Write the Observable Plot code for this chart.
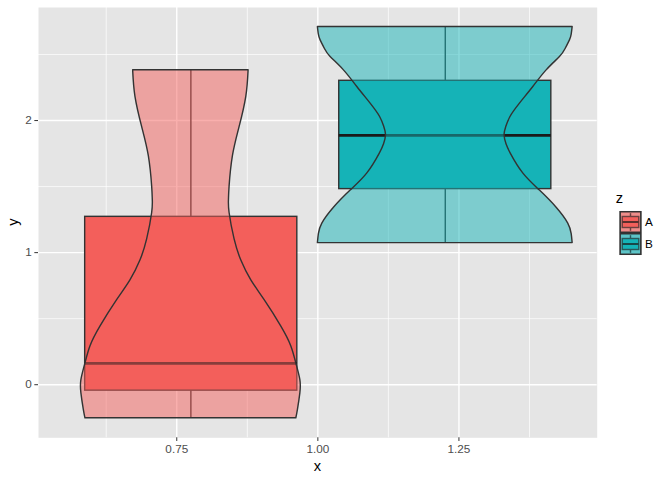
<!DOCTYPE html>
<html>
<head>
<meta charset="utf-8">
<script src="https://cdn.jsdelivr.net/npm/d3@7"></script>
<script src="https://cdn.jsdelivr.net/npm/@observablehq/plot@0.6"></script>
<style>
  html, body { margin: 0; padding: 0; background: white; }
</style>
</head>
<body>
<div id="chart"></div>
<script>
// ---- data ----
const groups = ["A", "B"];
const groupColors = ["#F35F5B", "#15B3B7"];

// boxplot statistics
const boxCenter = [0.775, 1.2258];
const boxLeft = [0.5877, 1.0379];
const boxRight = [0.9636, 1.4137];
const whiskerLow = [-0.254, 1.072];
const q1 = [-0.045, 1.481];
const median = [0.162, 1.888];
const q3 = [1.271, 2.301];
const whiskerHigh = [2.381, 2.708];

// violin outlines (y, half width)
const violinCenter = [0.775, 1.2258];
const violinAy = [-0.254, -0.19, -0.065, 0.035, 0.16, 0.29, 0.44, 0.64, 0.79, 0.94, 1.10, 1.30, 1.40, 1.50, 1.73, 1.95, 2.18, 2.381];
const violinAw = [0.1869, 0.1897, 0.1940, 0.1940, 0.1869, 0.1780, 0.1603, 0.1307, 0.1071, 0.0894, 0.0775, 0.0686, 0.0675, 0.0686, 0.0745, 0.0863, 0.0982, 0.1023];
const violinBy = [1.072, 1.14, 1.22, 1.34, 1.47, 1.60, 1.75, 1.82, 1.888, 1.95, 2.027, 2.128, 2.254, 2.38, 2.481, 2.54, 2.607, 2.65, 2.708];
const violinBw = [0.2257, 0.2240, 0.2179, 0.1973, 0.1677, 0.1381, 0.1160, 0.1085, 0.1050, 0.1080, 0.1155, 0.1323, 0.1559, 0.1796, 0.2032, 0.2130, 0.2209, 0.2240, 0.2257];

// axes
const xTicks = [0.75, 1.00, 1.25];
const xMinor = [0.625, 0.875, 1.125, 1.375];
const yTicks = [0, 1, 2];
const yMinor = [0.5, 1.5, 2.5];
const xDomain = [0.505, 1.495];
const yDomain = [-0.402, 2.856];

// ---- tables ----
const boxes = groups.map((g, i) => ({
  group: g, color: groupColors[i], cx: boxCenter[i], left: boxLeft[i], right: boxRight[i],
  lo: whiskerLow[i], q1: q1[i], med: median[i], q3: q3[i], hi: whiskerHigh[i]
}));
const violins = [];
violinAy.forEach((y, k) => violins.push({group: "A", color: groupColors[0], y, x1: violinCenter[0] - violinAw[k], x2: violinCenter[0] + violinAw[k]}));
violinBy.forEach((y, k) => violins.push({group: "B", color: groupColors[1], y, x1: violinCenter[1] - violinBw[k], x2: violinCenter[1] + violinBw[k]}));

const W = 672, H = 480;
const mL = 38, mR = 75.3, mT = 7, mB = 42.7;
const lw = 1.42;

const svg = Plot.plot({
  width: W, height: H,
  marginLeft: mL, marginRight: mR, marginTop: mT, marginBottom: mB,
  style: {fontFamily: "'Liberation Sans', Arial, sans-serif", fontSize: "11.73px", background: "white", overflow: "visible"},
  x: {domain: xDomain},
  y: {domain: yDomain},
  marks: [
    Plot.frame({fill: "#E5E5E5", stroke: null}),
    Plot.ruleX(xMinor, {stroke: "white", strokeWidth: 0.71}),
    Plot.ruleY(yMinor, {stroke: "white", strokeWidth: 0.71}),
    Plot.ruleX(xTicks, {stroke: "white", strokeWidth: lw}),
    Plot.ruleY(yTicks, {stroke: "white", strokeWidth: lw}),
    // whiskers
    Plot.ruleX(boxes, {x: "cx", y1: "lo", y2: "q1", stroke: "#333333", strokeWidth: lw}),
    Plot.ruleX(boxes, {x: "cx", y1: "q3", y2: "hi", stroke: "#333333", strokeWidth: lw}),
    // boxes
    Plot.rect(boxes, {x1: "left", x2: "right", y1: "q1", y2: "q3", fill: "color", stroke: "#333333", strokeWidth: lw}),
    Plot.ruleY(boxes, {y: "med", x1: "left", x2: "right", stroke: "#1A1A1A", strokeWidth: 2.84}),
    // violins
    Plot.areaX(violins, {y: "y", x1: "x1", x2: "x2", z: "group", fill: "color", fillOpacity: 0.5, stroke: "#333333", strokeWidth: lw, curve: "natural"}),
    // axes
    Plot.axisX(xTicks, {tickFormat: d3.format(".2f"), tickSize: 3.67, tickPadding: 3, stroke: "#333333", fill: "#4D4D4D", fontSize: 11.73, label: null}),
    Plot.axisY(yTicks, {tickFormat: d3.format("d"), tickSize: 3.67, tickPadding: 3, stroke: "#333333", fill: "#4D4D4D", fontSize: 11.73, label: null})
  ]
});

const s = d3.select(svg);
const font = "'Liberation Sans', Arial, sans-serif";
// axis titles
s.append("text").attr("x", mL + (W - mL - mR) / 2).attr("y", 471).attr("text-anchor", "middle")
  .attr("font-family", font).attr("font-size", 14.67).attr("fill", "black").text("x");
s.append("text").attr("transform", `translate(17.5, ${mT + (H - mT - mB) / 2}) rotate(-90)`).attr("text-anchor", "middle")
  .attr("font-family", font).attr("font-size", 14.67).attr("fill", "black").text("y");

// legend
const lg = s.append("g").attr("transform", "translate(619.5, 0)");
lg.append("text").attr("x", 0).attr("y", 203).attr("font-family", font).attr("font-size", 14.67).attr("fill", "black").text("z");
const ks = 22;
groups.forEach((g, i) => {
  const y0 = 211 + i * ks;
  const k = lg.append("g").attr("transform", `translate(0, ${y0})`);
  k.append("rect").attr("width", ks).attr("height", ks).attr("fill", "#E5E5E5");
  k.append("rect").attr("x", 0.7).attr("y", 0.7).attr("width", ks - 1.4).attr("height", ks - 1.4)
    .attr("fill", groupColors[i]).attr("fill-opacity", 0.5).attr("stroke", "#333333").attr("stroke-width", lw);
  k.append("line").attr("x1", ks / 2).attr("x2", ks / 2).attr("y1", ks * 0.1).attr("y2", ks * 0.25).attr("stroke", "#333333").attr("stroke-width", lw);
  k.append("line").attr("x1", ks / 2).attr("x2", ks / 2).attr("y1", ks * 0.75).attr("y2", ks * 0.9).attr("stroke", "#333333").attr("stroke-width", lw);
  k.append("rect").attr("x", ks * 0.125).attr("y", ks * 0.25).attr("width", ks * 0.75).attr("height", ks * 0.5)
    .attr("fill", groupColors[i]).attr("stroke", "#333333").attr("stroke-width", lw);
  k.append("line").attr("x1", ks * 0.125).attr("x2", ks * 0.875).attr("y1", ks / 2).attr("y2", ks / 2).attr("stroke", "#1A1A1A").attr("stroke-width", lw * 1.4);
  // violin alpha fill over the box glyph, as in the ggplot key stacking
  k.append("rect").attr("x", 0.7).attr("y", 0.7).attr("width", ks - 1.4).attr("height", ks - 1.4)
    .attr("fill", groupColors[i]).attr("fill-opacity", 0.5).attr("stroke", "#333333").attr("stroke-width", lw).attr("opacity", 0.6);
  lg.append("text").attr("x", ks + 7.5).attr("y", y0 + ks / 2 + 4.2).attr("font-family", font).attr("font-size", 11.73).attr("fill", "black").text(g);
});

document.getElementById("chart").appendChild(svg);
</script>
</body>
</html>
